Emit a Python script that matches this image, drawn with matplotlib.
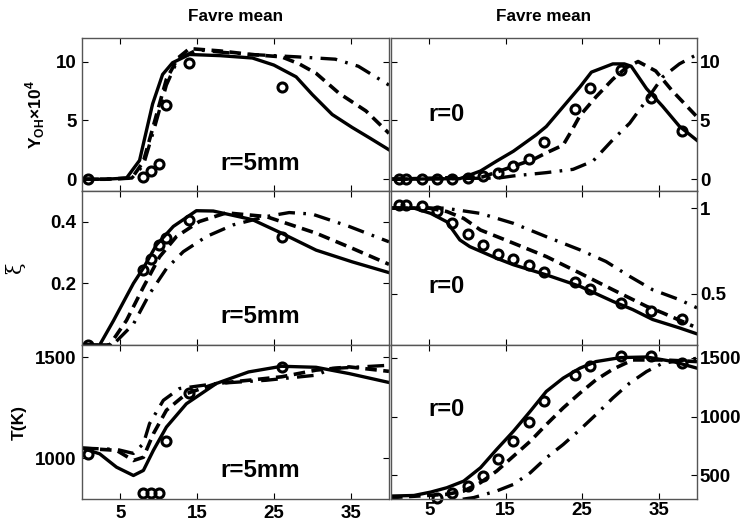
import matplotlib
matplotlib.use('Agg')
import matplotlib.pyplot as plt

plt.rcParams['font.family'] = ['Liberation Sans', 'DejaVu Sans']
plt.rcParams['font.weight'] = 'bold'
plt.rcParams['mathtext.fontset'] = 'custom'
plt.rcParams['mathtext.rm'] = 'Liberation Sans:bold'
plt.rcParams['mathtext.bf'] = 'Liberation Sans:bold'

# ---- r = 5mm (left column) ----
oh5_solid_x = [0, 3, 5.8, 7.5, 9.2, 10.5, 11.8, 14, 18, 22.2, 25, 27.9, 30, 32.6, 35.2, 37.5, 40]
oh5_solid_y = [0, 0, 0.1, 1.6, 6.4, 8.9, 9.9, 10.6, 10.5, 10.3, 9.7, 8.7, 7.2, 5.5, 4.4, 3.5, 2.5]
oh5_dash_x = [0, 3, 6.5, 8, 9.5, 11, 12.5, 14, 18, 22, 26, 28.3, 30.5, 33.5, 37, 40]
oh5_dash_y = [0, 0, 0.1, 1.5, 5.0, 8.5, 10.3, 11.1, 10.9, 10.6, 10.4, 9.8, 9.0, 7.3, 5.8, 3.9]
oh5_dd_x = [0, 3, 6.5, 8, 9.5, 11, 12.5, 15, 18, 22, 28, 33, 36, 40]
oh5_dd_y = [0, 0, 0.1, 1.2, 4.5, 8.0, 10.2, 11.0, 10.8, 10.6, 10.4, 10.2, 9.6, 8.0]

xi5_solid_x = [0, 2.3, 4.1, 6.7, 8, 9.7, 11.9, 14.9, 17.1, 22.2, 26, 30.5, 35.2, 40]
xi5_solid_y = [0, 0, 0.079, 0.2, 0.25, 0.325, 0.385, 0.436, 0.435, 0.407, 0.363, 0.308, 0.27, 0.235]
xi5_dash_x = [0, 3.6, 5.8, 8, 10.1, 12.3, 15.3, 18.8, 24, 30.5, 35.2, 40]
xi5_dash_y = [0, 0, 0.08, 0.188, 0.286, 0.352, 0.401, 0.429, 0.417, 0.363, 0.314, 0.262]
xi5_dd_x = [0, 4, 6.7, 8.8, 11, 13.2, 16.2, 19.7, 24, 27, 30, 34.8, 40]
xi5_dd_y = [0, 0, 0.068, 0.166, 0.248, 0.303, 0.352, 0.39, 0.417, 0.43, 0.425, 0.385, 0.335]

t5_solid_x = [0, 2.3, 4.5, 6.7, 8, 9.3, 11, 13.6, 17.5, 21.7, 26, 30.5, 34.8, 40]
t5_solid_y = [1051, 1023, 957, 916, 941, 1040, 1155, 1270, 1370, 1427, 1455, 1450, 1419, 1375]
t5_dash_x = [0, 4.5, 6.7, 8, 9.3, 11, 13.6, 17.5, 21.7, 26, 30.5, 34.8, 40]
t5_dash_y = [1051, 1040, 990, 1006, 1122, 1238, 1320, 1370, 1386, 1403, 1436, 1452, 1430]
t5_dd_x = [0, 4.5, 6.7, 8, 8.8, 10.6, 12.7, 17.5, 24, 30.5, 32.6, 40]
t5_dd_y = [1051, 1045, 1025, 1073, 1172, 1287, 1345, 1370, 1386, 1411, 1444, 1460]

exp5_x = [0.8, 8, 9, 10, 11, 14, 26]
exp5_oh = [0, 0.2, 0.7, 1.3, 6.3, 9.9, 7.8]
exp5_xi = [0, 0.243, 0.278, 0.325, 0.347, 0.406, 0.352]
exp5_t = [1023, 830, 830, 830, 1086, 1323, 1452]

# ---- r = 0 (right column) ----
oh0_solid_x = [0, 9, 11.7, 13.8, 16, 19, 20.3, 22.5, 24.7, 26.2, 29, 30.5, 31.4, 33.4, 35.5, 37.7, 40]
oh0_solid_y = [0, 0.05, 0.7, 1.54, 2.38, 3.78, 4.48, 6.16, 7.84, 9.1, 9.8, 9.8, 9.6, 7.7, 6.2, 4.5, 3.3]
oh0_dash_x = [0, 12, 16, 18.6, 20.3, 22.5, 23.5, 24.7, 26.8, 29, 30.8, 32.3, 34.6, 36.7, 40]
oh0_dash_y = [0, 0.2, 1.1, 1.68, 2.24, 2.9, 4.0, 5.4, 7.0, 8.5, 9.5, 10.0, 9.2, 7.56, 5.3]
oh0_dd_x = [0, 14, 16, 20.3, 23.8, 26.4, 29, 31.2, 33.4, 35.5, 37.7, 40]
oh0_dd_y = [0, 0.1, 0.28, 0.56, 0.84, 1.54, 3.36, 4.76, 6.72, 8.68, 9.8, 10.6]

xi0_solid_x = [0, 3, 5.2, 7.3, 9, 10.3, 13.8, 16, 20.3, 24.7, 29, 31.6, 34.2, 37.7, 40]
xi0_solid_y = [1.0, 1.0, 0.969, 0.92, 0.814, 0.775, 0.707, 0.669, 0.61, 0.543, 0.455, 0.407, 0.349, 0.30, 0.265]
xi0_dash_x = [0, 5, 7.3, 9.5, 11.7, 16, 20.3, 24.7, 29, 33.4, 35.5, 39.5]
xi0_dash_y = [1.0, 1.0, 0.98, 0.94, 0.872, 0.795, 0.717, 0.62, 0.523, 0.426, 0.388, 0.31]
xi0_dd_x = [0, 7, 11.7, 16, 20.3, 24.7, 28.1, 31.2, 34.2, 37.7, 40]
xi0_dd_y = [1.0, 1.0, 0.969, 0.911, 0.833, 0.756, 0.688, 0.601, 0.523, 0.465, 0.417]

t0_solid_x = [0, 3, 5.2, 7.3, 9.5, 11.7, 13.8, 16, 18.2, 20.3, 22.5, 24.7, 26.8, 30, 33.4, 36.9, 40]
t0_solid_y = [325, 330, 359, 396, 452, 566, 721, 876, 1046, 1215, 1328, 1413, 1469, 1503, 1508, 1469, 1413]
t0_dash_x = [0, 7.3, 9.5, 11.7, 13.8, 16, 18.2, 20.3, 22.5, 24.7, 26.8, 29, 31.6, 35.5, 40]
t0_dash_y = [312, 340, 368, 439, 537, 664, 791, 933, 1074, 1201, 1314, 1404, 1483, 1483, 1469]
t0_dd_x = [0, 5, 8, 10.8, 13.8, 16, 18.2, 20.3, 22.5, 24.7, 26.8, 29, 31.2, 33.4, 35.5, 40]
t0_dd_y = [250, 265, 285, 312, 368, 424, 523, 650, 763, 890, 1018, 1159, 1286, 1384, 1455, 1497]

exp0_x = [1, 2, 4, 6, 8, 10, 12, 14, 16, 18, 20, 24, 26, 30, 34, 38]
exp0_oh = [0, 0, 0, 0, 0, 0.14, 0.3, 0.56, 1.12, 1.76, 3.14, 6.0, 7.76, 9.24, 6.86, 4.06]
exp0_xi = [1.017, 1.017, 1.01, 0.984, 0.915, 0.847, 0.785, 0.733, 0.70, 0.67, 0.624,
           0.566, 0.527, 0.446, 0.397, 0.353]
exp0_t_x = [6, 8, 10, 12, 14, 16, 18, 20, 24, 26, 30, 34, 38]
exp0_t = [306, 354, 410, 495, 642, 791, 952, 1130, 1356, 1432, 1517, 1517, 1460]

xticks = [5, 15, 25, 35]

W, H = 743, 525
fig = plt.figure(figsize=(W / 100, H / 100), dpi=100)

cols = [(82, 389), (391, 697)]
rows = [(38, 191), (191, 345), (345, 499)]
axes = {}
for i, (t, b) in enumerate(rows):
    for j, (l, r) in enumerate(cols):
        axes[i, j] = fig.add_axes([l / W, 1 - b / H, (r - l) / W, (b - t) / H])

dd = (0, (5, 2.5, 0.8, 2.5))


def draw(ax, sx, sy, dx, dy, ddx, ddy, ex, ey):
    ax.plot(sx, sy, '-', color='k', lw=2.4)
    ax.plot(dx, dy, color='k', lw=2.6, linestyle=(0, (3.2, 1.8)))
    ax.plot(ddx, ddy, color='k', lw=2.4, linestyle=dd)
    ax.plot(ex, ey, 'o', ms=6.5, mfc='none', mec='k', mew=2.2, clip_on=False)


draw(axes[0, 0], oh5_solid_x, oh5_solid_y, oh5_dash_x, oh5_dash_y, oh5_dd_x, oh5_dd_y, exp5_x, exp5_oh)
draw(axes[1, 0], xi5_solid_x, xi5_solid_y, xi5_dash_x, xi5_dash_y, xi5_dd_x, xi5_dd_y, exp5_x, exp5_xi)
draw(axes[2, 0], t5_solid_x, t5_solid_y, t5_dash_x, t5_dash_y, t5_dd_x, t5_dd_y, exp5_x, exp5_t)
draw(axes[0, 1], oh0_solid_x, oh0_solid_y, oh0_dash_x, oh0_dash_y, oh0_dd_x, oh0_dd_y, exp0_x, exp0_oh)
draw(axes[1, 1], xi0_solid_x, xi0_solid_y, xi0_dash_x, xi0_dash_y, xi0_dd_x, xi0_dd_y, exp0_x, exp0_xi)
draw(axes[2, 1], t0_solid_x, t0_solid_y, t0_dash_x, t0_dash_y, t0_dd_x, t0_dd_y, exp0_t_x, exp0_t)

ylims = {(0, 0): (-1, 12), (1, 0): (0, 0.5), (2, 0): (800, 1560),
         (0, 1): (-1, 12), (1, 1): (0.2, 1.1), (2, 1): (300, 1610)}
yticks = {(0, 0): [0, 5, 10], (1, 0): [0.2, 0.4], (2, 0): [1000, 1500],
          (0, 1): [0, 5, 10], (1, 1): [0.5, 1], (2, 1): [500, 1000, 1500]}
yticklabels = {(1, 0): ['0.2', '0.4'], (1, 1): ['0.5', '1']}

for (i, j), ax in axes.items():
    ax.set_xlim(0, 40)
    ax.set_ylim(*ylims[i, j])
    ax.set_xticks(xticks)
    ax.set_yticks(yticks[i, j])
    if (i, j) in yticklabels:
        ax.set_yticklabels(yticklabels[i, j])
    ax.tick_params(direction='in', length=4, width=0.8, top=True, right=True,
                   labelsize=13.5, colors='k', pad=4)
    if i < 2:
        ax.set_xticklabels([])
    if j == 1:
        ax.tick_params(labelleft=False, labelright=True, pad=2)
    for s in ax.spines.values():
        s.set_color('#555555')
        s.set_linewidth(1.0)
    for lab in ax.get_xticklabels() + ax.get_yticklabels():
        lab.set_fontweight('bold')

axes[0, 0].set_title('Favre mean', fontsize=12.3, fontweight='bold', pad=12)
axes[0, 1].set_title('Favre mean', fontsize=12.3, fontweight='bold', pad=12)

axes[0, 0].set_ylabel(r'Y$_{\mathrm{OH}}$$\times$10$^{\mathrm{4}}$', fontsize=12.5, fontweight='bold', labelpad=6)
axes[1, 0].set_ylabel('ξ', fontsize=15, fontweight='normal', family='DejaVu Serif', labelpad=18)
axes[2, 0].set_ylabel('T(K)', fontsize=12.5, fontweight='bold', labelpad=6)

txt5 = [(0, 0.183), (1, 0.182), (2, 0.188)]
for i, yy in txt5:
    axes[i, 0].text(0.58, yy, 'r=5mm', transform=axes[i, 0].transAxes, fontsize=17.4,
                    fontweight='bold', ha='center', va='center')
txt0 = [(0, 0.497), (1, 0.383), (2, 0.578)]
for i, yy in txt0:
    axes[i, 1].text(0.183, yy, 'r=0', transform=axes[i, 1].transAxes, fontsize=17,
                    fontweight='bold', ha='center', va='center')

fig.savefig('out.png', dpi=100)
